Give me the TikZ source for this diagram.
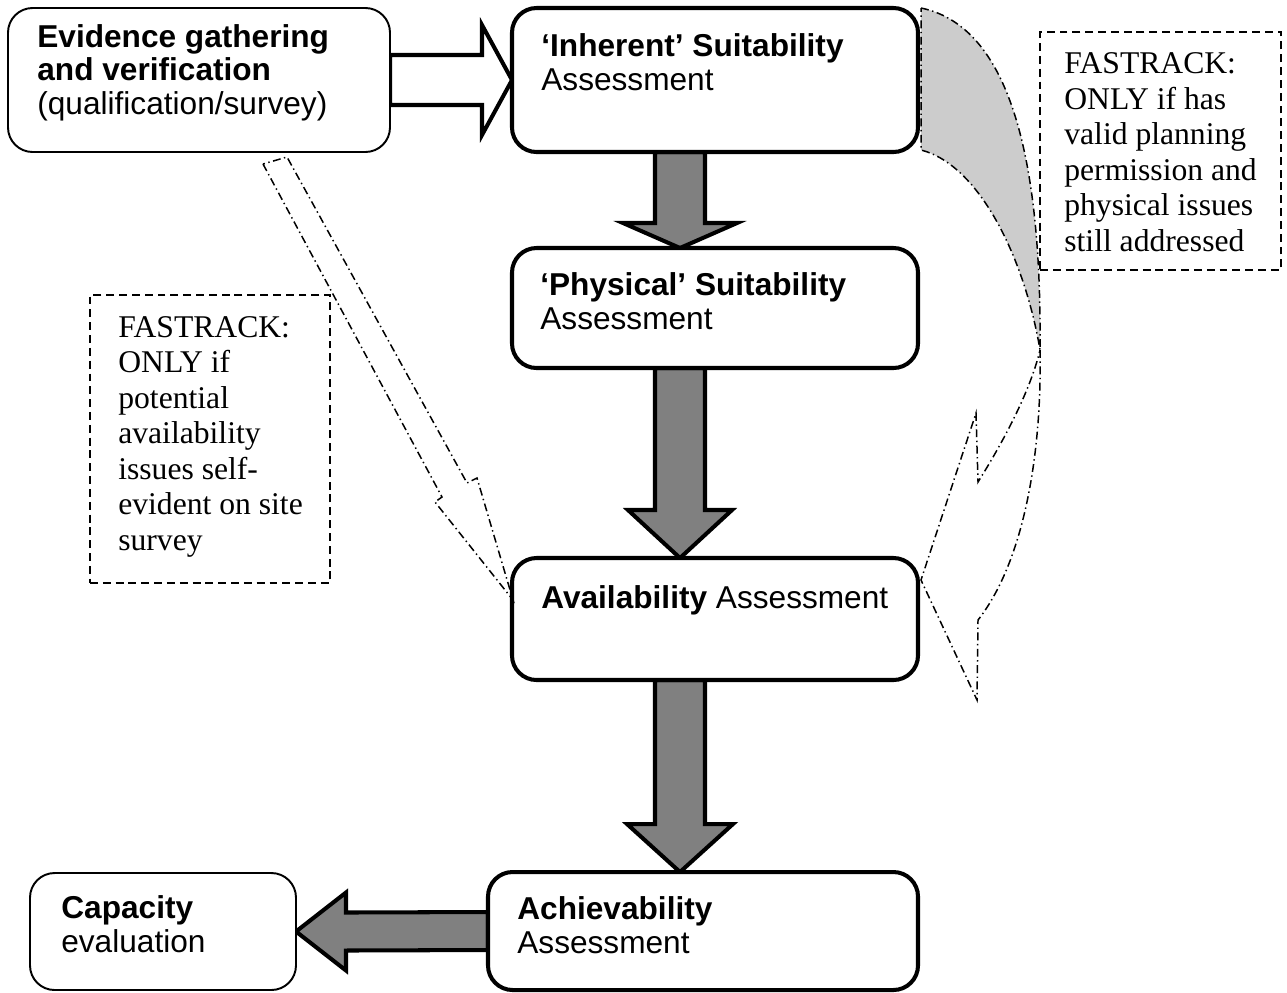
\documentclass[tikz,border=0pt]{standalone}
\usepackage{fontspec}
\setmainfont{Liberation Serif}
\setsansfont{Liberation Sans}
\usetikzlibrary{calc,fit}
\definecolor{arrowgray}{HTML}{808080}
\definecolor{backgray}{HTML}{CCCCCC}
\pgfdeclarelayer{bg}
\pgfsetlayers{bg,main}
\tikzset{
  thickbox/.style={draw, line width=2.3pt, rounded corners=14pt, fill=white, inner sep=0pt, outer sep=0pt},
  thinbox/.style={draw, line width=1.1pt, rounded corners=14pt, fill=white, inner sep=0pt, outer sep=0pt},
  blk/.style={draw, line width=2.3pt, fill=arrowgray, line join=miter},
  wblk/.style={blk, fill=white},
  dashdot/.style={line width=0.85pt, dash pattern=on 4.5pt off 2pt on 0.8pt off 2pt},
  notebox/.style={draw, line width=0.7pt, dash pattern=on 4.5pt off 2.8pt, inner sep=0pt, outer sep=0pt},
  sanstext/.style={font=\sffamily\fontsize{18pt}{19pt}\selectfont, inner sep=0pt, align=left},
  seriftext/.style={font=\rmfamily\fontsize{18pt}{20.2pt}\selectfont, inner sep=0pt, align=left},
}
\newcommand\vblk[4]{%
  \draw[blk] ($(ax |- #1.south)+(-25,0)$) -- ($(ax |- #2.north)+(-25,-#4)$)
    -- ($(ax |- #2.north)+(-#3,-#4)$) -- (ax |- #2.north)
    -- ($(ax |- #2.north)+(#3,-#4)$) -- ($(ax |- #2.north)+(25,-#4)$)
    -- ($(ax |- #1.south)+(25,0)$) -- cycle;}
\begin{document}
\begin{tikzpicture}[x=0.02cm,y=-0.02cm]
\useasboundingbox (0,0) rectangle (1287,992);
\begin{pgfonlayer}{bg}
\fill[white] (0,0) rectangle (1287,992);
\end{pgfonlayer}

% boxes
\node[thinbox,  fit={(8,8)(390,152)}]     (ev)  {};
\node[thickbox, fit={(512,8)(918,152)}]   (inh) {};
\node[thickbox, fit={(512,248)(918,368)}] (phy) {};
\node[thickbox, fit={(512,558)(918,680)}] (ava) {};
\node[thickbox, fit={(488,872)(918,990)}] (ach) {};
\node[thinbox,  fit={(30,873)(296,990)}]  (cap) {};
\coordinate (ax) at (680,0);

% block arrows behind the boxes
\begin{pgfonlayer}{bg}
\draw[wblk] ($(ev.east)+(0,-25)$) -- ($(inh.west)+(-30,-25)$) -- ($(inh.west)+(-30,-55)$)
  -- (inh.west) -- ($(inh.west)+(-30,55)$) -- ($(inh.west)+(-30,25)$) -- ($(ev.east)+(0,25)$) -- cycle;
\vblk{inh}{phy}{57}{25}
\vblk{phy}{ava}{52}{48}
\vblk{ava}{ach}{53}{48}
\draw[blk] ($(ach.west)+(0,-19)$) -- ($(cap.east)+(50,-19)$) -- ($(cap.east)+(50,-39)$)
  -- (cap.east) -- ($(cap.east)+(50,39)$) -- ($(cap.east)+(50,19)$) -- ($(ach.west)+(0,19)$) -- cycle;
\end{pgfonlayer}

% box texts (anchor at the baseline of the last line)
\node[sanstext, anchor=base west] (evT) at (37,114)
  {\textbf{Evidence gathering}\\\textbf{and verification}\\(qualification/survey)};
\node[sanstext, anchor=base west] (inhT) at (541,90) {\textbf{‘Inherent’ Suitability}\\Assessment};
\node[sanstext, anchor=base west] (phyT) at (540,329) {\textbf{‘Physical’ Suitability}\\Assessment};
\node[sanstext, anchor=base west] (avaT) at (541,608) {\textbf{Availability} Assessment};
\node[sanstext, anchor=base west] (achT) at (517,953) {\textbf{Achievability}\\Assessment};
\node[sanstext, anchor=base west] (capT) at (61,952) {\textbf{Capacity}\\evaluation};

% fast-track curved arrow (back face, grey)
\coordinate (cv) at (1040,350);
\draw[dashdot, fill=backgray] ($(inh.north east)+(3,0)$) .. controls (1003,25) and (1042,140) .. (cv)
  .. controls (1025,260) and (980,165) .. ($(inh.south east)+(3,-2)$) -- cycle;
% front face with head pointing at Availability
\coordinate (ctip) at ($(ava.north east)+(3,22)$);
\draw[dashdot] (cv) .. controls (1042,450) and (1025,560) .. (978,620) -- (977,700)
  -- (ctip) -- (976,413) -- (978,482) .. controls (1003,442) and (1030,392) .. (cv);

% fast-track straight arrow (Evidence -> Availability)
\coordinate (ltip) at ($(ava.north west)+(1,42)$);
\draw[dashdot] (263,164) -- (442,497) -- (435,502) -- (ltip) -- (477,478) -- (467,483) -- (287,157) -- cycle;

% notes
\node[notebox, fit={(90,295)(330,583)}] (noteL) {};
\node[seriftext, anchor=base west] (noteLT) at (118,550)
  {FASTRACK:\\ONLY if\\potential\\availability\\issues self-\\evident on site\\survey};
\node[notebox, fit={(1040,32)(1281,270)}] (noteR) {};
\node[seriftext, anchor=base west] (noteRT) at (1064,251)
  {FASTRACK:\\ONLY if has\\valid planning\\permission and\\physical issues\\still addressed};
\end{tikzpicture}
\end{document}
